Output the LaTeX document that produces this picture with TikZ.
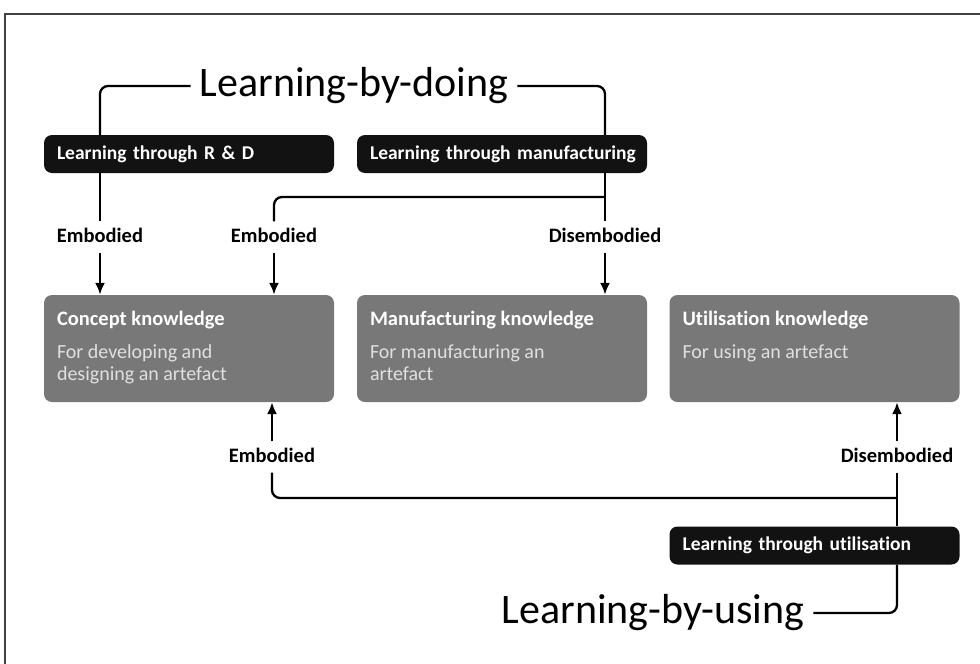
\documentclass[tikz,border=0pt]{standalone}
\usepackage{fontspec}
\setmainfont[Ligatures=NoCommon]{Carlito}
\usetikzlibrary{positioning,calc,arrows.meta}

\tikzset{
    learnbox/.style={fill=black!93, rounded corners=8pt, text=white, font=\bfseries\fontsize{19.5}{21}\selectfont,
        minimum height=38pt, inner xsep=13pt, inner ysep=0pt, text width=264pt, align=left},
    knowbox/.style={fill=black!53, rounded corners=8pt, minimum width=290pt, minimum height=107pt, inner sep=0pt},
    knowtitle/.style={text=white, font=\bfseries\fontsize{20.5}{22}\selectfont, inner sep=0pt, anchor=base west},
    knowtext/.style={text=black!12, font=\fontsize{20}{22}\selectfont, inner sep=0pt, anchor=north west, align=left},
    biglabel/.style={font=\fontsize{42}{46}\selectfont, inner xsep=9pt, inner ysep=0pt},
    flowlabel/.style={font=\bfseries\fontsize{20.5}{22}\selectfont, text height=14pt, text depth=4pt, inner xsep=0pt, inner ysep=6.5pt},
    conn/.style={black, line width=2.3pt},
    arr/.style={black, line width=2.3pt, -{Latex[length=12pt,width=10pt]}}
}

\begin{document}
\begin{tikzpicture}[x=1pt, y=-1pt]
    \useasboundingbox (0,0) rectangle (980,664);
    \draw[black!75, line width=1.5pt] (5,664) -- (5,14) -- (980,14);

    % learning channels
    \node[learnbox] (rnd) at (189,154) {\mbox{Learning through R \& D}};
    \node[learnbox] (mfglearn) at (502,154) {\mbox{Learning through manufacturing}};
    \node[learnbox] (uselearn) at (814.5,545.5) {\mbox{Learning through utilisation}};

    % knowledge boxes
    \node[knowbox] (concept) at (189,348.5) {};
    \node[knowbox] (mfg) at (502,348.5) {};
    \node[knowbox] (util) at (814.5,348.5) {};
    \node[knowtitle] (concepttitle) at ($(concept.north west)+(13,31)$) {Concept knowledge};
    \node[knowtitle] (mfgtitle) at ($(mfg.north west)+(13,31)$) {Manufacturing knowledge};
    \node[knowtitle] (utiltitle) at ($(util.north west)+(13,31)$) {Utilisation knowledge};
    \node[knowtext] (concepttext) at ($(concept.north west)+(13,50)$) {For developing and\\designing an artefact};
    \node[knowtext] (mfgtext) at ($(mfg.north west)+(13,50)$) {For manufacturing an\\artefact};
    \node[knowtext] (utiltext) at ($(util.north west)+(13,50)$) {For using an artefact};

    % headings
    \node[biglabel] (doing) at (354,86) {Learning-by-doing};
    \node[biglabel] (using) at (653,613) {Learning-by-using};

    % labels
    \node[flowlabel] (emb1) at (100,237) {Embodied};
    \node[flowlabel] (emb2) at (274,237) {Embodied};
    \node[flowlabel] (disemb1) at (605,237) {Disembodied};
    \node[flowlabel] (emb3) at (272,457) {Embodied};
    \node[flowlabel] (disemb2) at (897,457) {Disembodied};
    \coordinate (split1) at (605,197);
    \coordinate (split2) at (897,498);

    % doing
    \draw[conn, rounded corners=8pt] (doing.west) -- (doing.west -| emb1) -- (rnd.north -| emb1);
    \draw[conn, rounded corners=8pt] (doing.east) -- (doing.east -| disemb1) -- (mfglearn.north -| disemb1);
    \draw[conn] (rnd.south -| emb1) -- (emb1.north);
    \draw[conn] (mfglearn.south -| disemb1) -- (disemb1.north);
    \draw[conn, rounded corners=8pt] (split1) -- (split1 -| emb2) -- (emb2.north);
    \draw[arr] (emb1.south) -- (concept.north -| emb1);
    \draw[arr] (emb2.south) -- (concept.north -| emb2);
    \draw[arr] (disemb1.south) -- (mfg.north -| disemb1);

    % using
    \draw[arr] (emb3.north) -- (concept.south -| emb3);
    \draw[arr] (disemb2.north) -- (util.south -| disemb2);
    \draw[conn, rounded corners=8pt] (emb3.south) -- (emb3.south |- split2) -- (split2);
    \draw[conn] (disemb2.south) -- (uselearn.north -| disemb2);
    \draw[conn, rounded corners=8pt] (uselearn.south -| disemb2) -- (using.east -| disemb2) -- (using.east);
\end{tikzpicture}
\end{document}
